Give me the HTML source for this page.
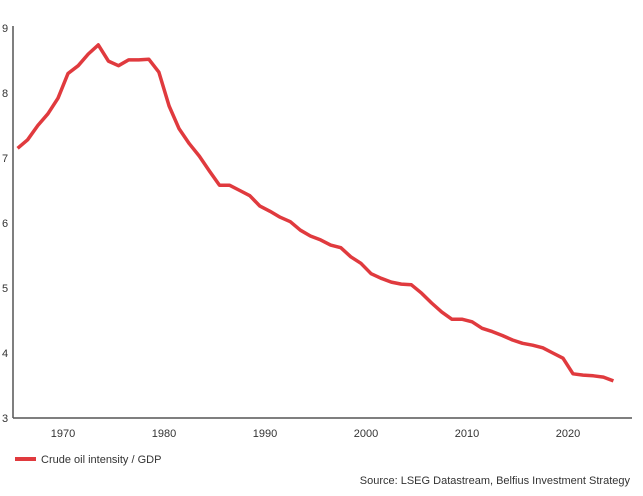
<!DOCTYPE html>
<html><head><meta charset="utf-8"><style>
body{margin:0;background:#fff;}
svg text{font-family:"Liberation Sans",sans-serif;fill:#333;}
</style></head><body>
<svg width="643" height="491">
<g id="yt"></g><g id="xt"></g>
<line x1="13" y1="26" x2="13" y2="418" stroke="#555" stroke-width="1.5"/>
<line x1="13" y1="418" x2="632" y2="418" stroke="#555" stroke-width="1.5"/>
<path id="ln" fill="none" stroke="#e03a3e" stroke-width="3.5" stroke-linejoin="round"/>
<rect x="15" y="457" width="21" height="4" fill="#e03a3e"/>
<text x="41" y="463" font-size="11">Crude oil intensity / GDP</text>
<text x="630" y="484" font-size="11" text-anchor="end">Source: LSEG Datastream, Belfius Investment Strategy</text>
</svg>
<script>
const startYear = 1965;
const values = [7.15,7.28,7.5,7.68,7.92,8.3,8.42,8.6,8.74,8.49,8.42,8.51,8.51,8.52,8.32,7.8,7.45,7.22,7.03,6.8,6.58,6.58,6.5,6.42,6.26,6.18,6.09,6.02,5.89,5.8,5.74,5.66,5.62,5.48,5.38,5.22,5.15,5.09,5.06,5.05,4.92,4.77,4.63,4.52,4.52,4.48,4.38,4.33,4.27,4.2,4.15,4.12,4.08,4.0,3.92,3.68,3.66,3.65,3.63,3.57];
const yTicks = [3,4,5,6,7,8,9];
const xTicks = [1970,1980,1990,2000,2010,2020];
const xs = yr => 63 + (yr - 1970) * 10.1;
const ys = v => 418 - (v - 3) * 65;
const NS = "http://www.w3.org/2000/svg";
let d = "";
values.forEach((v,i)=>{ d += (i?"L":"M") + xs(startYear+i+0.5).toFixed(1) + "," + ys(v).toFixed(1); });
document.getElementById("ln").setAttribute("d", d);
const yt = document.getElementById("yt");
yTicks.forEach(t=>{
  const el = document.createElementNS(NS,"text");
  el.setAttribute("x", 2); el.setAttribute("y", ys(t)+4);
  el.setAttribute("font-size", "11");
  el.textContent = t;
  
  
  yt.appendChild(el);
});
const xt = document.getElementById("xt");
xTicks.forEach(t=>{
  const el = document.createElementNS(NS,"text");
  el.setAttribute("x", xs(t)); el.setAttribute("y", 437);
  el.setAttribute("font-size", "11"); el.setAttribute("text-anchor", "middle");
  el.textContent = t;
  
  
  xt.appendChild(el);
});
</script>
</body></html>
